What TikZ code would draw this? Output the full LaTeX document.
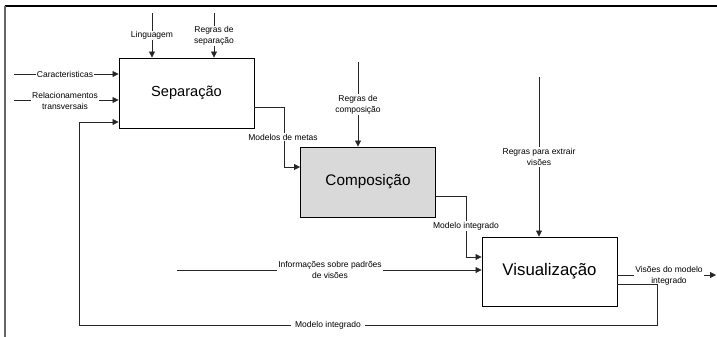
\documentclass[tikz,border=0pt]{standalone}
\usepackage{fontspec}
\setmainfont{Liberation Sans}
\usetikzlibrary{arrows.meta,calc}

\tikzset{
  proc/.style={draw=black, line width=0.9pt, minimum width=135pt, minimum height=70pt,
    inner sep=0pt},
  conn/.style={draw=black!85, line width=0.8pt},
  arr/.style={conn, -{Triangle[length=6pt,width=6pt]}},
  lbl/.style={fill=white, inner sep=1pt, align=center, font=\fontsize{8.5}{11}\selectfont},
}

\begin{document}
\begin{tikzpicture}[x=1pt, y=-1pt]
\useasboundingbox (0,0) rectangle (717,337);

% outer frame
\draw[line width=1.6pt] (5,6) -- (717,6);
\draw[black!60, line width=1.2pt] (5,6) -- (5,337);

% process boxes
\node[proc, font=\fontsize{14.6}{16}\selectfont] (sep) at (186.5,93) {Separação};
\node[proc, fill=black!15, font=\fontsize{15.3}{17}\selectfont] (comp) at (368,182) {Composição};
\node[proc, minimum height=69pt, font=\fontsize{16.8}{18}\selectfont] (vis) at (549.5,271.5) {Visualização};

% free ends of the connectors
\coordinate (ling) at (152,13);
\coordinate (rsep) at (214,13);
\coordinate (car) at (14,74);
\coordinate (rel) at (14,100);
\coordinate (rcomp) at (358,62);
\coordinate (rvis) at (539,77);
\coordinate (info) at (177,270);
\coordinate (out) at (716,275);

% inputs of Separação
\draw[arr] (ling) -- (ling |- sep.north);
\node[lbl] (lingL) at (152,35.5) {Linguagem};
\draw[arr] (rsep) -- (rsep |- sep.north);
\node[lbl] (rsepL) at (214,36) {Regras de\\separação};
\draw[arr] (car) -- (car -| sep.west);
\node[lbl] (carL) at (65,74) {Caracteristicas};
\draw[arr] (rel) -- (rel -| sep.west);
\node[lbl] (relL) at (65,101) {Relacionamentos\\transversais};

% Separação -> Composição
\draw[arr] ($(sep.east)+(0,14)$) -- (284,107) -- (284,167) -- ($(comp.west)+(0,-15)$);
\node[lbl] (metL) at (283,137) {Modelos de metas};

% rules of Composição
\draw[arr] (rcomp) -- (rcomp |- comp.north);
\node[lbl] (rcompL) at (358,104.5) {Regras de\\composição};

% Composição -> Visualização
\draw[arr] ($(comp.east)+(0,14)$) -- (466,196) -- (466,257) -- ($(vis.west)+(0,-14.5)$);
\node[lbl] (intL) at (466,226) {Modelo integrado};

% inputs of Visualização
\draw[arr] (rvis) -- (rvis |- vis.north);
\node[lbl] (rvisL) at (539,157) {Regras para extrair\\visões};
\draw[arr] (info) -- (info -| vis.west);
\node[lbl] (infoL) at (330,270) {Informações sobre padrões\\de visões};

% output of Visualização
\draw[arr] ($(vis.east)+(0,3.5)$) -- (out);
\node[lbl] (outL) at (669,276) {Visões do modelo\\integrado};

% feedback loop back to Separação
\draw[arr] ($(vis.east)+(0,12.5)$) -- (657,284) -- (657,325) -- (79,325) -- (79,122) -- ($(sep.west)+(0,29)$);
\node[lbl, inner xsep=4pt] (fbL) at (328,325) {Modelo integrado};
\end{tikzpicture}
\end{document}
